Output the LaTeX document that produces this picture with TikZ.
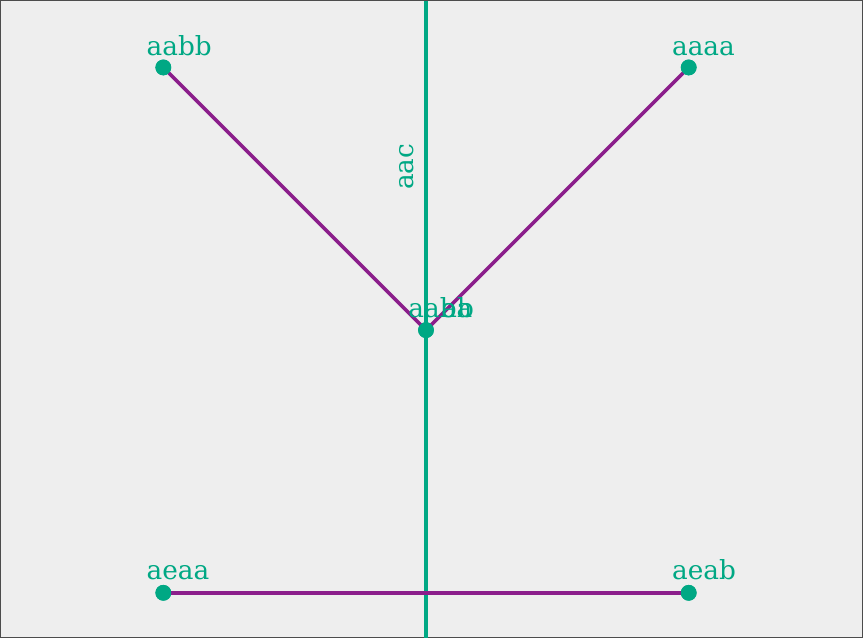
\documentclass[tikz,border=0pt]{standalone}
\usepackage{fontspec}
\setmainfont{DejaVu Serif}
\usepackage{xcolor}
\definecolor{vgreen}{HTML}{00A884}
\definecolor{vpurple}{HTML}{8B1E8B}
\definecolor{vback}{HTML}{EEEEEE}
\tikzset{
  vframe/.style={fill=vback, draw=black!70, line width=0.6pt},
  vedge/.style={line width=2pt, draw=vpurple, line cap=butt},
  vaxis/.style={line width=2pt, draw=vgreen},
  vdot/.style={circle, fill=vgreen, inner sep=0pt, minimum size=9pt},
  vlabel/.style={text=vgreen, font=\fontsize{15}{17}\selectfont, inner sep=0pt, anchor=base west},
}
\begin{document}
\begin{tikzpicture}[x=0.02cm, y=-0.02cm]
\draw[vframe] (0,0) rectangle (863,638);
\useasboundingbox (0,0) rectangle (863,638);
\coordinate (top) at (426,0);
\coordinate (bot) at (426,638);
\draw[vaxis] (top) -- (bot);
\node[vlabel, rotate=90] (aac) at (413,190) {aac};
\node[vdot] (aabb) at (163,67) {};
\node[vdot] (aaaa) at (689,67) {};
\node[vdot] (aaba) at (426,330) {};
\node[vdot] (aeaa) at (163,593) {};
\node[vdot] (aeab) at (689,593) {};
\draw[vedge] (aabb.center) -- (aaba.center);
\draw[vedge] (aaaa.center) -- (aaba.center);
\draw[vedge] (aeaa.center) -- (aeab.center);
\node[vdot] at (aaba) {};
\node[vdot] at (aabb) {};
\node[vdot] at (aaaa) {};
\node[vdot] at (aeaa) {};
\node[vdot] at (aeab) {};
\node[vlabel] (aabb-l) at (146,55) {aabb};
\node[vlabel] (aaaa-l) at (672,55) {aaaa};
\node[vlabel] (aaba-l) at (408,317) {aaba};
\node[vlabel] (ab-l) at (441,317) {ab};
\node[vlabel] (aeaa-l) at (146,580) {aeaa};
\node[vlabel] (aeab-l) at (672,580) {aeab};
\end{tikzpicture}
\end{document}
